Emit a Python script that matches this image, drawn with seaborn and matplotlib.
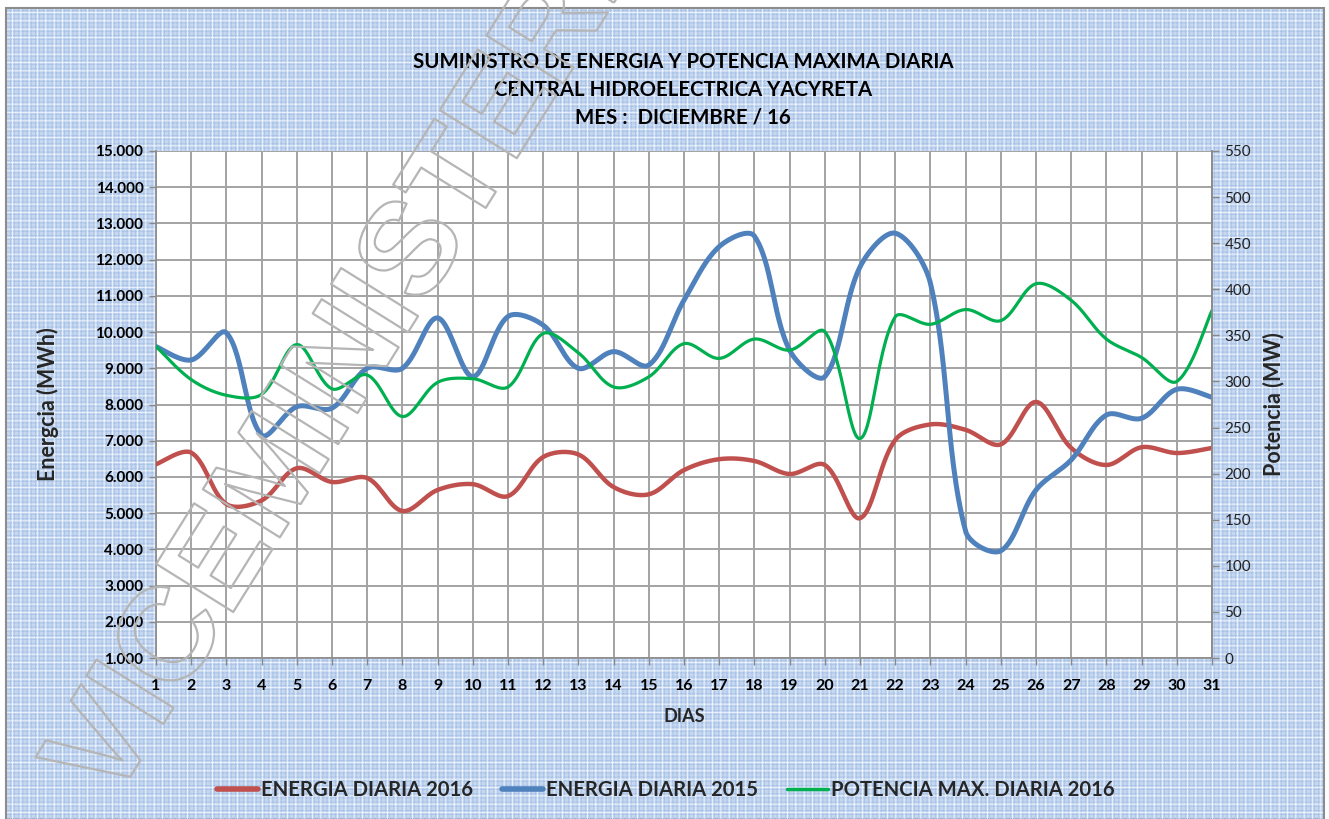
import numpy as np
import pandas as pd
import matplotlib
matplotlib.use("Agg")
import matplotlib.pyplot as plt
import matplotlib.patheffects as pe
from matplotlib.patches import Rectangle
from matplotlib.lines import Line2D
from matplotlib.ticker import FuncFormatter, MultipleLocator
import seaborn as sns

# ---------------- data ----------------
dias = list(range(1, 32))
energia_2016 = [6350, 6670, 5250, 5350, 6240, 5860, 5970, 5060, 5640, 5800,
                5470, 6550, 6620, 5720, 5520, 6190, 6490, 6440, 6080, 6330,
                4860, 7020, 7450, 7300, 6900, 8070, 6800, 6330, 6820, 6660, 6800]
energia_2015 = [9600, 9230, 9980, 7160, 7940, 7900, 9000, 9000, 10390, 8770,
                10430, 10190, 9000, 9460, 9090, 10880, 12360, 12650, 9500, 8770,
                11800, 12730, 11350, 4500, 3960, 5640, 6470, 7710, 7620, 8420, 8200]
potencia_2016 = [338, 302, 285, 286, 340, 292, 307, 262, 299, 303,
                 294, 352, 331, 294, 305, 341, 325, 346, 334, 354,
                 238, 370, 362, 378, 366, 406, 388, 346, 326, 300, 377]

titulo = ["SUMINISTRO DE ENERGIA Y POTENCIA MAXIMA DIARIA",
          "CENTRAL HIDROELECTRICA YACYRETA",
          "MES :  DICIEMBRE / 16"]
series_names = ["ENERGIA DIARIA 2016", "ENERGIA DIARIA 2015", "POTENCIA MAX. DIARIA 2016"]
colors = ["#c0504d", "#4f81bd", "#00b050"]

W, H = 1329, 819
PX_PER_DAY = 35.2


def smooth(x, y, ypx, n=30):
    """Excel-like smoothed line: Bezier segments, control lengths weighted by
    neighbouring segment lengths (measured in screen pixels)."""
    x = np.asarray(x, float)
    y = np.asarray(y, float)
    P = np.column_stack([x, y])
    S = np.array([PX_PER_DAY, ypx])
    m = len(P)
    d = np.linalg.norm(np.diff(P, axis=0) * S, axis=1)
    cout = np.zeros_like(P)
    cin = np.zeros_like(P)
    for i in range(m):
        if i == 0:
            T = P[1] - P[0]
            cout[i] = P[i] + T / 6.0
            cin[i] = P[i]
            continue
        if i == m - 1:
            T = P[-1] - P[-2]
            cin[i] = P[i] - T / 6.0
            cout[i] = P[i]
            continue
        T = P[i + 1] - P[i - 1]
        dp, dn = d[i - 1], d[i]
        cout[i] = P[i] + T * dn / (dp + dn) / 3.0
        cin[i] = P[i] - T * dp / (dp + dn) / 3.0
    t = np.linspace(0, 1, n, endpoint=False)[:, None]
    out = []
    for i in range(m - 1):
        p1, c1, c2, p2 = P[i], cout[i], cin[i + 1], P[i + 1]
        seg = ((1 - t) ** 3) * p1 + 3 * ((1 - t) ** 2) * t * c1 + 3 * (1 - t) * t ** 2 * c2 + t ** 3 * p2
        out.append(seg)
    out.append(P[-1][None, :])
    out = np.vstack(out)
    return out[:, 0], out[:, 1]


sns.set_theme(style="white")
plt.rcParams["font.family"] = ["Lato", "DejaVu Sans"]
plt.rcParams["hatch.linewidth"] = 0.6

fig = plt.figure(figsize=(W / 100, H / 100), dpi=100)
fig.patch.set_facecolor("white")

# patterned chart background
bg = Rectangle((6 / W, 0), (1324 - 6) / W, 1 - 8 / H, transform=fig.transFigure,
               facecolor="#c6d8f0", edgecolor="#8c8c8c", linewidth=1.5, zorder=-3)
fig.patches.append(bg)
hat = Rectangle((7 / W, 0), (1323 - 7) / W, 1 - 9 / H, transform=fig.transFigure,
                facecolor="none", edgecolor="#a9c2e7", linewidth=0, hatch="++++", zorder=-2)
fig.patches.append(hat)
hat2 = Rectangle((7 / W, 0), (1323 - 7) / W, 1 - 9 / H, transform=fig.transFigure,
                 facecolor="none", edgecolor="#eef4fc", linewidth=0, hatch="++", zorder=-2)
fig.patches.append(hat2)

ax_h = 658 - 151
ax = fig.add_axes([156 / W, 1 - 658 / H, (1212 - 156) / W, ax_h / H])
ax.set_facecolor("white")

df = pd.DataFrame({"dia": dias, "e16": energia_2016, "e15": energia_2015, "p16": potencia_2016})

left_px = ax_h / 14000.0
right_px = ax_h / 550.0

sx, sy = smooth(df["dia"], df["e16"], left_px)
sns.lineplot(x=sx, y=sy, ax=ax, color=colors[0], linewidth=3.2, sort=False, estimator=None, zorder=3)
sx, sy = smooth(df["dia"], df["e15"], left_px)
sns.lineplot(x=sx, y=sy, ax=ax, color=colors[1], linewidth=3.6, sort=False, estimator=None, zorder=3)

ax.set_xlim(1, 31)
ax.set_ylim(1000, 15000)
ax.set_xticks(dias)
ax.set_xticklabels([str(d) for d in dias], fontsize=11.5, fontweight="bold")
ax.yaxis.set_major_locator(MultipleLocator(1000))
ax.yaxis.set_major_formatter(FuncFormatter(lambda v, p: f"{int(v):,}".replace(",", ".")))
for lab in ax.get_yticklabels():
    lab.set_fontweight("bold")
    lab.set_fontsize(11)
ax.tick_params(axis="y", labelsize=11, length=5, width=1, direction="out", pad=4)
ax.tick_params(axis="x", length=5, width=1, direction="out", pad=10)
ax.tick_params(axis="both", colors="#888888", labelcolor="black", left=True, bottom=True)
ax.grid(True, color="#a3a3a3", linewidth=1.4)
ax.set_axisbelow(True)
for s in ["left", "bottom", "right", "top"]:
    ax.spines[s].set_color("#8c8c8c")
    ax.spines[s].set_linewidth(1.2)
ax.spines["top"].set_visible(False)
ax.set_xlabel("DIAS", fontsize=13, fontweight="bold", labelpad=11)
ax.set_ylabel("Energcia (MWh)", fontsize=15.5, fontweight="bold", labelpad=26)

ax2 = ax.twinx()
sx, sy = smooth(df["dia"], df["p16"], right_px)
sns.lineplot(x=sx, y=sy, ax=ax2, color=colors[2], linewidth=2.3, sort=False, estimator=None)
ax2.set_ylim(0, 550)
ax2.yaxis.set_major_locator(MultipleLocator(50))
ax2.tick_params(axis="y", labelsize=11, length=5, width=1, colors="#888888", labelcolor="#222222",
                direction="out", pad=4, right=True)
ax2.set_ylabel("Potencia (MW)", fontsize=15.5, fontweight="bold", labelpad=8)
ax2.grid(False)
for s in ["left", "bottom", "right", "top"]:
    ax2.spines[s].set_visible(False)
ax2.spines["right"].set_visible(True)
ax2.spines["right"].set_color("#8c8c8c")
ax2.spines["right"].set_linewidth(1.2)

# titles
for i, t in enumerate(titulo):
    fig.text(683 / W, 1 - (62 + 28 * i) / H, t, ha="center", va="center",
             fontsize=14.7, fontweight="bold", color="black")

# legend
handles = [Line2D([0], [0], color=colors[0], lw=4),
           Line2D([0], [0], color=colors[1], lw=4),
           Line2D([0], [0], color=colors[2], lw=2.5)]
fig.legend(handles, series_names, loc="center", bbox_to_anchor=(666 / W, 1 - 790 / H),
           ncol=3, frameon=False, handlelength=2.0, handletextpad=0.15, columnspacing=1.45,
           prop={"family": ["Lato", "DejaVu Sans"], "weight": "bold", "size": 14.6})

# watermark (outlined)
fig.text(112 / W, 1 - 806 / H, "VICEMINISTERIO DE MINAS", rotation=58,
         rotation_mode="anchor", ha="left", va="baseline", fontsize=95, fontweight="bold",
         family=["Liberation Sans Narrow", "Liberation Sans", "DejaVu Sans"], color=(1, 1, 1, 0),
         zorder=20, path_effects=[pe.Stroke(linewidth=1.6, foreground="#b5b5b5")])

fig.savefig("out.png", dpi=100, facecolor=fig.get_facecolor())
